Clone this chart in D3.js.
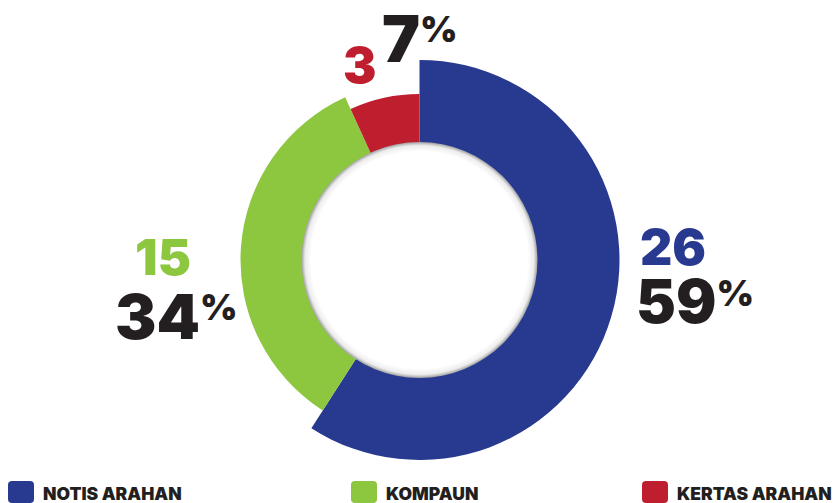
<!DOCTYPE html>
<html>
<head>
<meta charset="utf-8">
<script src="https://cdn.jsdelivr.net/npm/d3@7"></script>
<style>
  html, body { margin: 0; padding: 0; background: #fff; }
  svg { display: block; }
  text { font-family: Inter, "Open Sans", sans-serif; }
</style>
</head>
<body>
<svg id="chart" width="834" height="503"></svg>
<script>
// ---- data ----
const categories = ["NOTIS ARAHAN", "KOMPAUN", "KERTAS ARAHAN"];
const values = [26, 15, 3];

// ---- styles ----
const colors = ["#283a90", "#8dc63f", "#be1e2d"];
const outerRadii = [200, 179, 166];
const innerRadius = 118;
const cx = 419.5, cy = 260;
const textColor = "#231f20";

// label layout per slice
const labelLayout = [
  { cx: 640, cy: 265, cAnchor: "start", cSize: 50, px: 636, py: 323, pSize: 60 },
  { cx: 191, cy: 275, cAnchor: "end",   cSize: 50, px: 115, py: 339, pSize: 62 },
  { cx: 343, cy: 83,  cAnchor: "start", cSize: 50, px: 382, py: 62,  pSize: 64 }
];
const pctSignSize = 36;

const svg = d3.select("#chart");
const total = d3.sum(values);

const pie = d3.pie().sort(null).value(d => d)(values);

const defs = svg.append("defs");
const grad = defs.append("radialGradient").attr("id", "holeShadow")
  .attr("cx", "50%").attr("cy", "50%").attr("r", "50%");
grad.append("stop").attr("offset", "92%").attr("stop-color", "#ffffff");
grad.append("stop").attr("offset", "97%").attr("stop-color", "#ececec");
grad.append("stop").attr("offset", "100%").attr("stop-color", "#a0a0a0");

const g = svg.append("g").attr("transform", `translate(${cx},${cy})`);

g.selectAll("path.slice").data(pie).join("path")
  .attr("class", "slice")
  .attr("fill", (d, i) => colors[i])
  .attr("d", (d, i) => d3.arc().innerRadius(innerRadius - 2).outerRadius(outerRadii[i])(d));

g.append("circle").attr("r", innerRadius).attr("fill", "url(#holeShadow)");

// labels: one text element per slice (count line + percent line)
values.forEach((v, i) => {
  const L = labelLayout[i];
  const pct = Math.round(v / total * 100);
  // measure percent number width
  const tmp = svg.append("text").attr("font-size", L.pSize).attr("font-weight", 900).text(pct);
  const w = tmp.node().getComputedTextLength();
  tmp.remove();
  let countX = L.cx;
  if (L.cAnchor === "end") {
    const tmp2 = svg.append("text").attr("font-size", L.cSize).attr("font-weight", 900).text(v);
    countX = L.cx - tmp2.node().getComputedTextLength();
    tmp2.remove();
  }
  const t = svg.append("text").attr("font-weight", 900);
  t.append("tspan").attr("x", countX).attr("y", L.cy)
    .attr("font-size", L.cSize).attr("fill", colors[i]).text(v);
  t.append("tspan").attr("x", L.px).attr("y", L.py)
    .attr("font-size", L.pSize).attr("fill", textColor).text(pct);
  t.append("tspan").attr("x", L.px + w).attr("y", L.py - (L.pSize - pctSignSize) * 0.727)
    .attr("font-size", pctSignSize).attr("fill", textColor).text("%");
});

// legend
const legendX = [8, 351, 642];
const lg = svg.append("g");
categories.forEach((c, i) => {
  lg.append("rect").attr("x", legendX[i]).attr("y", 481).attr("width", 26).attr("height", 22)
    .attr("rx", 4).attr("fill", colors[i]);
  lg.append("text").attr("x", legendX[i] + 35).attr("y", 499.5)
    .attr("font-size", 17.5).attr("font-weight", 900).attr("fill", textColor)
    .text(c);
});
</script>
</body>
</html>
